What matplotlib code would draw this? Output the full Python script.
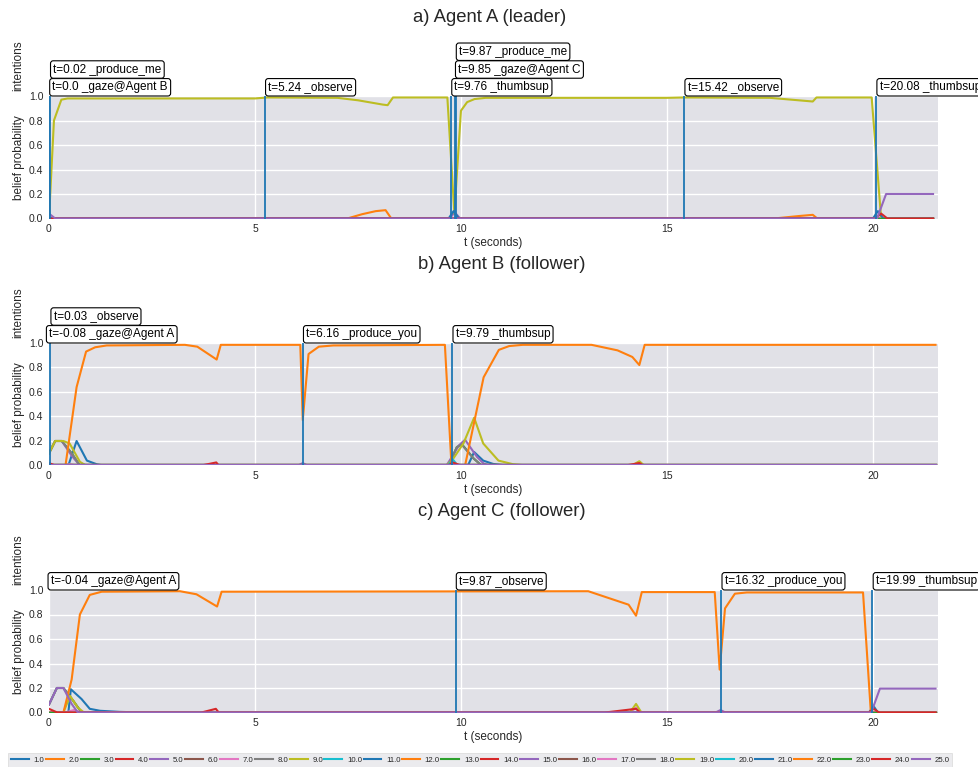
import numpy as np
import matplotlib
matplotlib.use('Agg')
import matplotlib.pyplot as plt

plt.rcParams['font.family'] = ['Liberation Sans', 'DejaVu Sans']
plt.rcParams['text.color'] = '.15'
plt.rcParams['axes.labelcolor'] = '.15'
plt.rcParams['xtick.color'] = '.15'
plt.rcParams['ytick.color'] = '.15'

# intention ids shown in the legend
intent_ids = [float(i) for i in range(1, 26)]

# ---------------- a) Agent A (leader) ----------------
a_end = 21.46
a_t_19 = [0.0, 0.12, 0.30, 0.45, 5.0, 5.3, 7.0, 7.5, 8.1, 8.22, 8.35, 9.67, 9.84, 10.0,
          10.15, 10.33, 10.6, 15.0, 15.4, 17.5, 18.54, 18.63, 19.97, 20.2, a_end]
a_v_19 = [0.0, 0.80, 0.97, 0.98, 0.98, 0.988, 0.985, 0.965, 0.93, 0.925, 0.988, 0.988, 0.04, 0.88,
          0.95, 0.975, 0.985, 0.985, 0.988, 0.985, 0.955, 0.988, 0.988, 0.0, 0.0]
a_t_12 = [0, 7.24, 7.6, 7.93, 8.17, 8.31, 17.6, 18.2, 18.54, 18.65, a_end]
a_v_12 = [0, 0, 0.035, 0.06, 0.068, 0, 0, 0.02, 0.03, 0, 0]
a_t_25 = [0, 0.15, 20.1, 20.32, a_end]
a_v_25 = [0.04, 0, 0, 0.2, 0.2]
a_t_21 = [0, 9.7, 9.82, 9.95, 20.0, 20.12, 20.25, a_end]
a_v_21 = [0, 0, 0.06, 0, 0, 0.06, 0, 0]
a_t_15 = [0, 9.72, 9.85, 9.98, a_end]
a_v_15 = [0, 0, 0.05, 0, 0]
a_t_24 = [0, 20.05, 20.2, 20.35, a_end]
a_v_24 = [0, 0, 0.04, 0, 0]
a_ev_t = [0.0, 0.02, 5.24, 9.76, 9.85, 9.87, 15.42, 20.08]
a_ev_lab = ['_gaze@Agent B', '_produce_me', '_observe', '_thumbsup',
            '_gaze@Agent C', '_produce_me', '_observe', '_thumbsup']

# ---------------- b) Agent B (follower) ----------------
b_end = 21.52
b_t_12 = [0, 0.4, 0.67, 0.9, 1.12, 1.4, 3.3, 3.6, 4.07, 4.17, 6.1, 6.16, 6.3, 6.55, 6.9,
          9.61, 9.77, 10.1, 10.55, 10.92, 11.17, 11.5, 13.17, 13.8, 14.16, 14.33, 14.46, b_end]
b_v_12 = [0, 0, 0.64, 0.93, 0.965, 0.98, 0.985, 0.97, 0.865, 0.985, 0.985, 0.37, 0.91, 0.97, 0.98,
          0.985, 0.0, 0.0, 0.72, 0.944, 0.975, 0.985, 0.985, 0.94, 0.886, 0.82, 0.985, 0.985]
b_t_5 = [0, 0.15, 0.31, 0.55, 0.75, 6.05, 6.16, 6.27, 9.65, 9.95, 10.1, 10.39, 10.55, 10.7, b_end]
b_v_5 = [0.1, 0.2, 0.2, 0.08, 0, 0, 0.02, 0, 0, 0.164, 0.21, 0.07, 0.016, 0, 0]
b_t_3 = [0, 0.15, 0.31, 0.55, 0.75, 9.7, 9.9, 10.02, 10.3, 10.5, b_end]
b_v_3 = [0.1, 0.2, 0.2, 0.1, 0, 0, 0.15, 0.175, 0.06, 0, 0]
b_t_8 = [0, 0.15, 0.31, 0.55, 0.75, 9.7, 9.9, 10.02, 10.3, 10.5, b_end]
b_v_8 = [0.1, 0.2, 0.2, 0.1, 0, 0, 0.15, 0.17, 0.06, 0, 0]
b_t_9 = [0, 0.15, 0.35, 0.5, 0.75, 0.9, 9.65, 9.81, 10.06, 10.32, 10.54, 10.91, 11.27, 11.6,
         14.15, 14.33, 14.45, b_end]
b_v_9 = [0.1, 0.2, 0.2, 0.18, 0.03, 0, 0, 0.055, 0.18, 0.39, 0.18, 0.04, 0.01, 0,
         0, 0.035, 0, 0]
b_t_1 = [0, 0.47, 0.67, 0.92, 1.16, 1.32, 10.17, 10.32, 10.54, 10.78, 11.1, b_end]
b_v_1 = [0, 0, 0.2, 0.04, 0.01, 0, 0, 0.11, 0.04, 0.013, 0, 0]
b_t_24 = [0, 0.15, 3.7, 4.06, 4.12, 9.7, 9.8, 10.0, 14.0, 14.33, 14.42, b_end]
b_v_24 = [0.02, 0, 0, 0.025, 0, 0, 0.025, 0, 0, 0.02, 0, 0]
b_t_7 = [0, 0.35, 0.5, 0.65, b_end]
b_v_7 = [0, 0, 0.012, 0, 0]
b_t_10 = [0, 9.68, 9.8, 9.92, b_end]
b_v_10 = [0, 0, 0.05, 0, 0]
b_ev_t = [-0.08, 0.03, 6.16, 9.79]
b_ev_lab = ['_gaze@Agent A', '_observe', '_produce_you', '_thumbsup']

# ---------------- c) Agent C (follower) ----------------
c_end = 21.52
c_t_12 = [0, 0.35, 0.55, 0.75, 0.99, 1.28, 3.18, 3.58, 4.08, 4.19, 13.09, 14.07, 14.25, 14.39,
          16.16, 16.28, 16.41, 16.65, 16.94, 19.76, 19.95, c_end]
c_v_12 = [0, 0, 0.27, 0.8, 0.96, 0.986, 0.99, 0.965, 0.865, 0.986, 0.99, 0.88, 0.79, 0.983,
          0.983, 0.35, 0.85, 0.97, 0.98, 0.98, 0.0, 0.0]
c_t_25 = [0, 0.19, 0.35, 0.55, 0.7, 19.96, 20.17, c_end]
c_v_25 = [0.065, 0.2, 0.2, 0.07, 0, 0, 0.195, 0.195]
c_t_3 = [0, 0.19, 0.35, 0.6, 0.79, c_end]
c_v_3 = [0.065, 0.2, 0.2, 0.09, 0, 0]
c_t_8 = [0, 0.19, 0.35, 0.6, 0.79, c_end]
c_v_8 = [0.065, 0.2, 0.2, 0.09, 0, 0]
c_t_9 = [0, 0.35, 0.51, 0.7, 0.85, 14.1, 14.25, 14.38, c_end]
c_v_9 = [0, 0, 0.135, 0.04, 0, 0, 0.07, 0, 0]
c_t_1 = [0, 0.47, 0.53, 0.79, 0.99, 1.24, 1.72, 2.3, 19.9, 20.02, 20.12, c_end]
c_v_1 = [0, 0, 0.19, 0.11, 0.03, 0.014, 0.005, 0, 0, 0.05, 0, 0]
c_t_24 = [0, 0.2, 3.7, 4.05, 4.12, 13.5, 14.25, 14.35, 19.9, 20.02, 20.15, c_end]
c_v_24 = [0.03, 0, 0, 0.03, 0, 0, 0.03, 0, 0, 0.03, 0, 0]
c_t_7 = [0, 0.4, 0.6, 0.8, 14.1, 14.25, 14.38, c_end]
c_v_7 = [0, 0, 0.02, 0, 0, 0.04, 0, 0]
c_t_15 = [0, 16.18, 16.3, 16.42, c_end]
c_v_15 = [0, 0, 0.02, 0, 0]
c_ev_t = [-0.04, 9.87, 16.32, 19.99]
c_ev_lab = ['_gaze@Agent A', '_observe', '_produce_you', '_thumbsup']

panels = [
    dict(title='a) Agent A (leader)', end=a_end, ev_t=a_ev_t, ev_lab=a_ev_lab,
         series={19: (a_t_19, a_v_19), 12: (a_t_12, a_v_12), 25: (a_t_25, a_v_25),
                 21: (a_t_21, a_v_21), 15: (a_t_15, a_v_15), 24: (a_t_24, a_v_24)}),
    dict(title='b) Agent B (follower)', end=b_end, ev_t=b_ev_t, ev_lab=b_ev_lab,
         series={12: (b_t_12, b_v_12), 5: (b_t_5, b_v_5), 3: (b_t_3, b_v_3), 8: (b_t_8, b_v_8),
                 9: (b_t_9, b_v_9), 1: (b_t_1, b_v_1), 24: (b_t_24, b_v_24), 7: (b_t_7, b_v_7),
                 10: (b_t_10, b_v_10)}),
    dict(title='c) Agent C (follower)', end=c_end, ev_t=c_ev_t, ev_lab=c_ev_lab,
         series={12: (c_t_12, c_v_12), 25: (c_t_25, c_v_25), 3: (c_t_3, c_v_3), 8: (c_t_8, c_v_8),
                 9: (c_t_9, c_v_9), 1: (c_t_1, c_v_1), 24: (c_t_24, c_v_24), 7: (c_t_7, c_v_7),
                 15: (c_t_15, c_v_15)}),
]

W, H = 979, 767
fig = plt.figure(figsize=(W / 100, H / 100), dpi=100)
colors = plt.rcParams['axes.prop_cycle'].by_key()['color']

ax_left, ax_right = 49, 938
ax_tops = [96, 343, 590]
ax_h = 122.5
title_pos = [(490, 18), (502, 265), (502, 512)]

fs_ann = 8.5
pad = 0.23
row_h = 12.8  # points

handles = []
for k, p in enumerate(panels):
    top = ax_tops[k]
    ax = fig.add_axes([ax_left / W, 1 - (top + ax_h) / H, (ax_right - ax_left) / W, ax_h / H])
    ax.set_facecolor('#e1e1e7')
    for s in ax.spines.values():
        s.set_visible(False)
    ax.grid(True, color='white', lw=1.0)
    ax.set_axisbelow(True)

    hs = []
    for i, iid in enumerate(intent_ids):
        n = int(iid)
        if n in p['series']:
            t, v = p['series'][n]
        else:
            t, v = [0, p['end']], [0, 0]
        h, = ax.plot(t, v, color=colors[i % 10], lw=1.5, label=str(iid))
        hs.append(h)
    if k == 0:
        handles = hs

    for t in p['ev_t']:
        ax.axvline(t, color=colors[0], lw=1.3)

    row, prev = 0, None
    for t, lab in zip(p['ev_t'], p['ev_lab']):
        if prev is not None and t - prev < 1.0:
            row += 1
        else:
            row = 0
        prev = t
        ax.annotate(f't={t} {lab}', xy=(t, 1.0), xycoords=('data', 'axes fraction'),
                    xytext=(pad * fs_ann + 0.5, pad * fs_ann + row * row_h), textcoords='offset points',
                    ha='left', va='bottom', fontsize=fs_ann, color='black',
                    bbox=dict(boxstyle=f'round,pad={pad}', fc='white', ec='black', lw=0.8),
                    annotation_clip=False)

    ax.set_xlim(0, 21.58)
    ax.set_ylim(0, 1.0)
    ax.set_xticks([0, 5, 10, 15, 20])
    ax.set_yticks([0, 0.2, 0.4, 0.6, 0.8, 1.0])
    ax.set_yticklabels(['0.0', '0.2', '0.4', '0.6', '0.8', '1.0'])
    ax.tick_params(length=0, labelsize=7.5, pad=4)
    ax.set_xlabel('t (seconds)', fontsize=8.5, labelpad=2)
    ax.set_ylabel('belief probability', fontsize=8.5, labelpad=3)

    fig.text(18 / W, 1 - (top - 30) / H, 'intentions', rotation=90, fontsize=8.5,
             ha='center', va='center')
    tx, ty = title_pos[k]
    fig.text(tx / W, 1 - ty / H, p['title'], fontsize=13.3, ha='center', va='center')

leg = fig.legend(handles, [h.get_label() for h in handles], ncol=25, loc='lower left',
                 bbox_to_anchor=(8 / W, 0.0), borderaxespad=0.0, fontsize=5.6, handlelength=2.3,
                 handletextpad=0.6, columnspacing=0.2, borderpad=0.4, frameon=True,
                 fancybox=False)
leg.get_frame().set_facecolor('#e6e6ea')
leg.get_frame().set_edgecolor('#d8d8d8')
leg.get_frame().set_linewidth(0.6)

fig.savefig('out.png', dpi=100)
